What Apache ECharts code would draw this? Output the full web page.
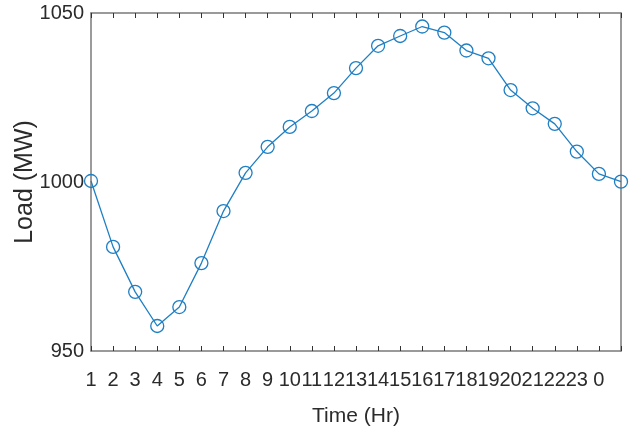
<!DOCTYPE html>
<html>
<head>
<meta charset="utf-8">
<script src="https://cdn.jsdelivr.net/npm/echarts@6/dist/echarts.min.js"></script>
<style>html,body{margin:0;padding:0;background:#fff;}#c{width:631px;height:434px;}</style>
</head>
<body>
<div id="c"></div>
<script>
var hourLabels = ['1','2','3','4','5','6','7','8','9','10','11','12','13','14','15','16','17','18','19','20','21','22','23','0',''];
var loadMW = [1000.3, 980.8, 967.5, 957.4, 963, 976, 991.4, 1002.7, 1010.4, 1016.3, 1021, 1026.3, 1033.7, 1040.3, 1043.2, 1046, 1044.2, 1038.9, 1036.6, 1027.2, 1021.8, 1017.2, 1009, 1002.4, 1000.1];
var yTicks = [950, 1000, 1050];

var chart = echarts.init(document.getElementById('c'), null, {renderer: 'canvas'});
var axisColor = '#7a7a7a';
var textColor = '#2b2b2b';
var fontFam = '"Liberation Sans Narrow", "Liberation Sans", Arial, sans-serif';
chart.setOption({
  backgroundColor: '#fff',
  animation: false,
  grid: {left: 91, right: 10, top: 13, bottom: 83, show: false, containLabel: false, outerBoundsMode: 'none'},
  xAxis: [{
    type: 'category',
    data: hourLabels,
    boundaryGap: false,
    position: 'bottom',
    name: 'Time (Hr)',
    nameLocation: 'middle',
    nameGap: 55,
    nameMoveOverlap: false,
    nameTextStyle: {fontFamily: '"Liberation Sans", Arial, sans-serif', fontSize: 21, color: textColor},
    axisLine: {show: true, lineStyle: {color: axisColor, width: 1.5}},
    axisTick: {show: true, inside: true, length: 5, alignWithLabel: true, lineStyle: {color: '#333', width: 1}},
    axisLabel: {show: true, interval: 0, margin: 19, fontFamily: fontFam, fontSize: 20, color: textColor},
    splitLine: {show: false}
  }, {
    type: 'category',
    data: hourLabels,
    boundaryGap: false,
    position: 'top',
    axisLine: {show: true, lineStyle: {color: axisColor, width: 1.5}},
    axisTick: {show: true, inside: true, length: 5, lineStyle: {color: '#333', width: 1}},
    axisLabel: {show: false},
    splitLine: {show: false}
  }],
  yAxis: [{
    type: 'value',
    min: yTicks[0],
    max: yTicks[yTicks.length - 1],
    interval: yTicks[1] - yTicks[0],
    name: 'Load (MW)',
    nameLocation: 'middle',
    nameGap: 53,
    nameMoveOverlap: false,
    nameTextStyle: {fontFamily: '"Liberation Sans", Arial, sans-serif', fontSize: 25, color: textColor},
    axisLine: {show: true, lineStyle: {color: axisColor, width: 1.5}},
    axisTick: {show: false},
    axisLabel: {margin: 7, fontFamily: fontFam, fontSize: 20, color: textColor, formatter: function (v) { return String(v); }},
    splitLine: {show: false}
  }, {
    type: 'value',
    position: 'right',
    min: yTicks[0],
    max: yTicks[yTicks.length - 1],
    interval: yTicks[1] - yTicks[0],
    axisLine: {show: true, lineStyle: {color: axisColor, width: 1.5}},
    axisTick: {show: false},
    axisLabel: {show: false},
    splitLine: {show: false}
  }],
  series: [{
    type: 'line',
    data: loadMW,
    xAxisIndex: 0,
    yAxisIndex: 0,
    symbol: 'circle',
    symbolSize: 13,
    showAllSymbol: true,
    lineStyle: {color: '#1f7fc4', width: 1.3},
    itemStyle: {color: 'rgba(0,0,0,0)', borderColor: '#1f7fc4', borderWidth: 1.3}
  }]
});
</script>
</body>
</html>
